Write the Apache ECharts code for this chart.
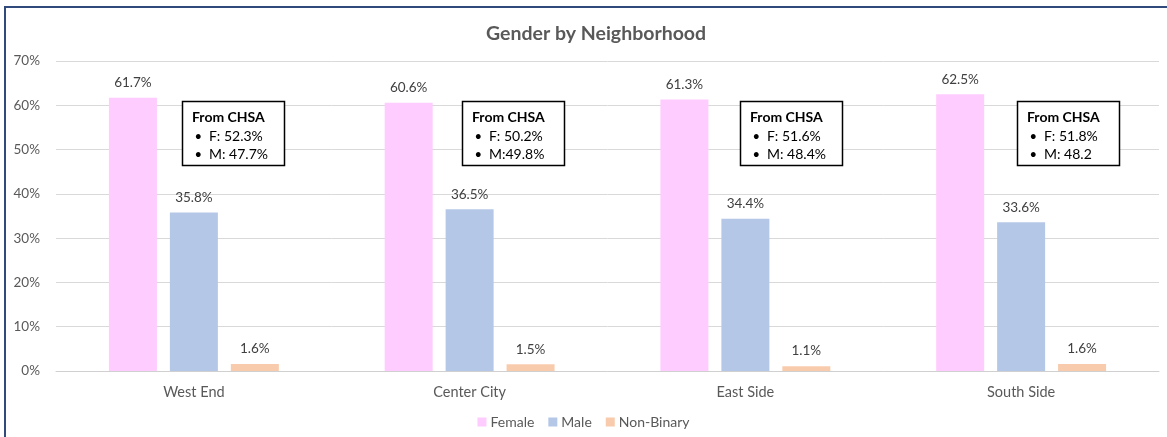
<!DOCTYPE html>
<html>
  <head>
    <meta charset="utf-8" />
    <title>Gender by Neighborhood</title>
    <script src="https://cdn.jsdelivr.net/npm/echarts@6/dist/echarts.min.js"></script>
    <style>
      html, body { margin: 0; padding: 0; background: #fff; }
    </style>
  </head>
  <body>
    <div id="chartContainer" style="width: 1167px;height:437px;"></div>
    <script>
        // data
        var neighborhoods = ['West End', 'Center City', 'East Side', 'South Side'];
        var female = [61.7, 60.6, 61.3, 62.5];
        var male = [35.8, 36.5, 34.4, 33.6];
        var nonBinary = [1.6, 1.5, 1.1, 1.6];
        var chsaF = ['F: 52.3%', 'F: 50.2%', 'F: 51.6%', 'F: 51.8%'];
        var chsaM = ['M: 47.7%', 'M:49.8%', 'M: 48.4%', 'M: 48.2'];

        var font = 'Lato, "Liberation Sans", sans-serif';
        var chart = echarts.init(document.getElementById('chartContainer'));

        function barSeries(name, values, color) {
          return {
            name: name,
            type: 'bar',
            data: values,
            barWidth: 48,
            barGap: '27%',
            itemStyle: { color: color },
            label: {
              show: true,
              position: 'top',
              distance: 8,
              formatter: function (p) { return p.value.toFixed(1) + '%'; },
              color: '#404040',
              fontSize: 13.5,
              fontFamily: font
            }
          };
        }

        var option = {
          animation: false,
          title: {
            text: 'Gender by Neighborhood',
            left: 481,
            top: 19,
            textStyle: { color: '#595959', fontSize: 19.5, fontWeight: 'bold', fontFamily: font }
          },
          legend: {
            bottom: 3,
            left: 'center',
            itemWidth: 9,
            itemHeight: 9,
            itemGap: 14,
            icon: 'rect',
            textStyle: { color: '#595959', fontSize: 14, fontFamily: font, padding: [0, 0, 0, -1] },
            data: ['Female', 'Male', 'Non-Binary']
          },
          grid: { left: 56, right: 8, top: 61, bottom: 66, containLabel: false },
          xAxis: {
            type: 'category',
            data: neighborhoods,
            axisTick: { show: false },
            axisLine: { lineStyle: { color: '#d0d0d0' } },
            axisLabel: { color: '#595959', fontSize: 14.5, fontFamily: font, margin: 14 }
          },
          yAxis: {
            type: 'value',
            min: 0,
            max: 70,
            interval: 10,
            axisLabel: { formatter: '{value}%', color: '#595959', fontSize: 13.5, fontFamily: font, margin: 16 },
            splitLine: { lineStyle: { color: '#d9d9d9' } }
          },
          series: [
            barSeries('Female', female, '#FFCCFF'),
            barSeries('Male', male, '#B4C7E7'),
            barSeries('Non-Binary', nonBinary, '#F8CBAD')
          ]
        };
        chart.setOption(option);

        // CHSA note boxes, placed from the category axis
        var boxShift = [-11.5, -8, -5.5, -4];
        var graphics = [{
          type: 'rect',
          shape: { x: 5, y: 7, width: 1170, height: 440 },
          style: { fill: 'none', stroke: '#2F4A7B', lineWidth: 2 },
          silent: true
        }];
        neighborhoods.forEach(function (n, i) {
          var cx = chart.convertToPixel({ xAxisIndex: 0 }, n);
          var top = chart.convertToPixel({ yAxisIndex: 0 }, 61.0);
          var x = Math.round(cx + boxShift[i]) + 0.5;
          var y = Math.round(top) + 0.5;
          graphics.push({
            type: 'group',
            x: x,
            y: y,
            children: [
              { type: 'rect', shape: { x: 0, y: 0, width: 102, height: 64 },
                style: { fill: '#fff', stroke: '#000', lineWidth: 1.5 } },
              { type: 'text', x: 9.5, y: 16, style: { text: 'From CHSA', font: 'bold 14px ' + font, fill: '#000', verticalAlign: 'middle' } },
              { type: 'text', x: 12, y: 35, style: { text: '\u2022', font: '13px ' + font, fill: '#000', verticalAlign: 'middle' } },
              { type: 'text', x: 26.5, y: 35, style: { text: chsaF[i], font: '14px ' + font, fill: '#000', verticalAlign: 'middle' } },
              { type: 'text', x: 12, y: 53, style: { text: '\u2022', font: '13px ' + font, fill: '#000', verticalAlign: 'middle' } },
              { type: 'text', x: 26.5, y: 53, style: { text: chsaM[i], font: '14px ' + font, fill: '#000', verticalAlign: 'middle' } }
            ]
          });
        });
        chart.setOption({ graphic: graphics });
    </script>
  </body>
</html>
